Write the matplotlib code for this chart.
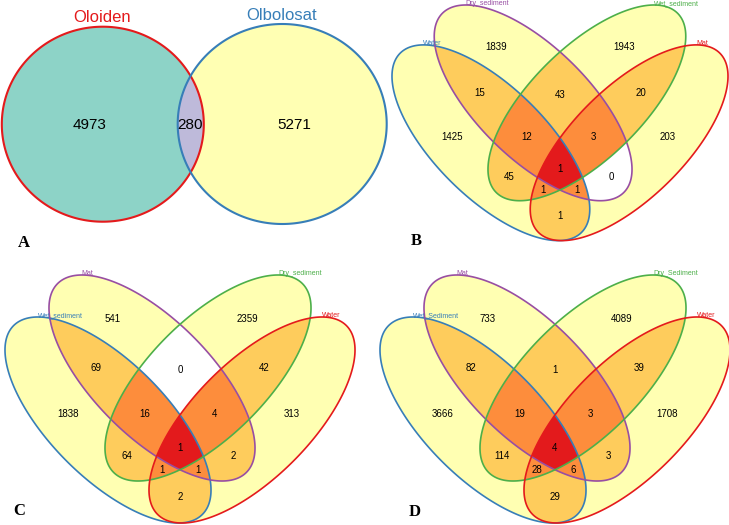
import numpy as np
import matplotlib
matplotlib.use("Agg")
import matplotlib.pyplot as plt
from matplotlib.patches import Polygon

W, H = 729, 525

# ---- panel A: two sets
a_sets = ["Oloiden", "Olbolosat"]
a_counts = [4973, 280, 5271]  # left only, shared, right only

# ---- panels B-D: four sets, region keys give membership in ellipse order
regions = ["1000", "0100", "0010", "0001",
           "1100", "0110", "0011", "1010", "0101", "1001",
           "1110", "0111", "1011", "1101", "1111"]

b_sets = ["Water", "Dry_sediment", "Wet_sediment", "Mat"]
b_counts = [1425, 1839, 1943, 203, 15, 43, 20, 45, 0, 1, 12, 3, 1, 1, 1]

c_sets = ["Wet_sediment", "Mat", "Dry_sediment", "Water"]
c_counts = [1838, 541, 2359, 313, 69, 0, 42, 64, 2, 2, 16, 4, 1, 1, 1]

d_sets = ["Wet_Sediment", "Mat", "Dry_Sediment", "Water"]
d_counts = [3666, 733, 4089, 1708, 82, 1, 39, 114, 3, 29, 19, 3, 28, 6, 4]

# layout of the 4-ellipse template (units ~ pixels of panel D)
ell_centers = [(-72, 0), (-28, 42), (28, 42), (72, 0)]
ell_angles = [-45, -45, 45, 45]
ell_a, ell_b = 133.5, 58.3
ell_colors = ["#377eb8", "#984ea3", "#4daf4a", "#e41a1c"]
label_pos = {
    "1000": (-112, 6), "0100": (-67, 101), "0010": (67, 101), "0001": (112, 6),
    "1100": (-84, 52), "0110": (0, 50), "0011": (84, 52),
    "1010": (-53, -36), "0101": (53, -36), "1001": (0, -77),
    "1110": (-35, 6), "0111": (35, 6), "1011": (-18, -50), "1101": (18, -50),
    "1111": (0, -28),
}
degree_colors = {1: "#ffffb2", 2: "#fecc5c", 3: "#fd8d3c", 4: "#e31a1c"}


def ellipse_pts(cx, cy, a, b, ang, n=400):
    t = np.linspace(0, 2 * np.pi, n, endpoint=False)
    x, y = a * np.cos(t), b * np.sin(t)
    r = np.deg2rad(ang)
    return np.column_stack([cx + x * np.cos(r) - y * np.sin(r),
                            cy + x * np.sin(r) + y * np.cos(r)])


def clip_poly(subject, clipper):
    # Sutherland-Hodgman against a convex CCW clipper
    out = list(subject)
    m = len(clipper)
    for i in range(m):
        p1, p2 = clipper[i], clipper[(i + 1) % m]
        inp, out = out, []
        if not inp:
            break
        def inside(q):
            return (p2[0] - p1[0]) * (q[1] - p1[1]) - (p2[1] - p1[1]) * (q[0] - p1[0]) >= 0
        def cross(s, e):
            dx1, dy1 = e[0] - s[0], e[1] - s[1]
            dx2, dy2 = p2[0] - p1[0], p2[1] - p1[1]
            den = dx1 * dy2 - dy1 * dx2
            t = ((p1[0] - s[0]) * dy2 - (p1[1] - s[1]) * dx2) / den
            return (s[0] + t * dx1, s[1] + t * dy1)
        s = inp[-1]
        for e in inp:
            if inside(e):
                if not inside(s):
                    out.append(cross(s, e))
                out.append(e)
            elif inside(s):
                out.append(cross(s, e))
            s = e
    return out


fig = plt.figure(figsize=(W / 100, H / 100), dpi=100)


def panel_axes(cx, cy, sx, sy):
    left, right = cx - 200 * sx, cx + 200 * sx
    top, bottom = cy - 150 * sy, cy + 140 * sy
    ax = fig.add_axes([left / W, 1 - bottom / H, (right - left) / W, (bottom - top) / H])
    ax.set_xlim(-200, 200)
    ax.set_ylim(-140, 150)
    ax.axis("off")
    ax.patch.set_alpha(0)
    return ax


def four_venn(cx, cy, sx, sy, names, counts):
    ax = panel_axes(cx, cy, sx, sy)
    shapes = [ellipse_pts(c[0], c[1], ell_a, ell_b, g) for c, g in zip(ell_centers, ell_angles)]
    value = dict(zip(regions, counts))
    # paint intersections in order of degree; region colour = its own degree
    keys = sorted(regions, key=lambda k: k.count("1"))
    for k in keys:
        idx = [i for i, ch in enumerate(k) if ch == "1"]
        poly = [tuple(p) for p in shapes[idx[0]]]
        for i in idx[1:]:
            poly = clip_poly(poly, shapes[i])
        col = "white" if value[k] == 0 else degree_colors[len(idx)]
        if len(poly) > 2:
            ax.add_patch(Polygon(poly, closed=True, fc=col, ec="none", zorder=1))
    for shp, col, name in zip(shapes, ell_colors, names):
        ax.add_patch(Polygon(shp, closed=True, fc="none", ec=col, lw=1.2, zorder=2))
        top = shp[np.argmax(shp[:, 1])]
        ax.text(top[0], top[1], name, color=col, fontsize=5, ha="left", va="baseline",
                family="Liberation Sans", zorder=3)
    for k in regions:
        x, y = label_pos[k]
        ax.text(x, y, str(value[k]), fontsize=7, ha="center", va="center",
                family="Liberation Sans", zorder=3)


# panel A
axA = fig.add_axes([0, 1 - 260 / H, 400 / W, 260 / H])
axA.set_xlim(0, 400)
axA.set_ylim(260, 0)
axA.axis("off")
axA.patch.set_alpha(0)
circ_l = ellipse_pts(102.8, 124.2, 101, 97.5, 0)
circ_r = ellipse_pts(282.2, 124.0, 104.5, 100, 0)
axA.add_patch(Polygon(circ_l, fc="#8dd3c7", ec="none"))
axA.add_patch(Polygon(circ_r, fc="#ffffb3", ec="none"))
shared = clip_poly([tuple(p) for p in circ_l], [tuple(p) for p in circ_r])
axA.add_patch(Polygon(shared, fc="#bebada", ec="none"))
axA.add_patch(Polygon(circ_l, fc="none", ec="#e41a1c", lw=1.5))
axA.add_patch(Polygon(circ_r, fc="none", ec="#377eb8", lw=1.5))
axA.text(102, 25, a_sets[0], color="#e41a1c", fontsize=12, ha="center", va="bottom",
         family="Liberation Sans")
axA.text(282, 23, a_sets[1], color="#377eb8", fontsize=12, ha="center", va="bottom",
         family="Liberation Sans")
for x, v in zip([89.3, 190, 294], a_counts):
    axA.text(x, 125, str(v), fontsize=11, ha="center", va="center", family="Liberation Sans")

four_venn(560, 142.75, 0.96, 0.95, b_sets, b_counts)
four_venn(180, 420, 1.0, 1.0, c_sets, c_counts)
four_venn(555, 420, 1.0, 1.0, d_sets, d_counts)

for lab, x, y in [("A", 23.5, 243), ("B", 416, 241), ("C", 19, 511), ("D", 415, 512)]:
    fig.text(x / W, 1 - y / H, lab, fontsize=12, fontweight="bold", ha="center", va="center",
             family="Liberation Serif")

fig.savefig("out.png", dpi=100)
